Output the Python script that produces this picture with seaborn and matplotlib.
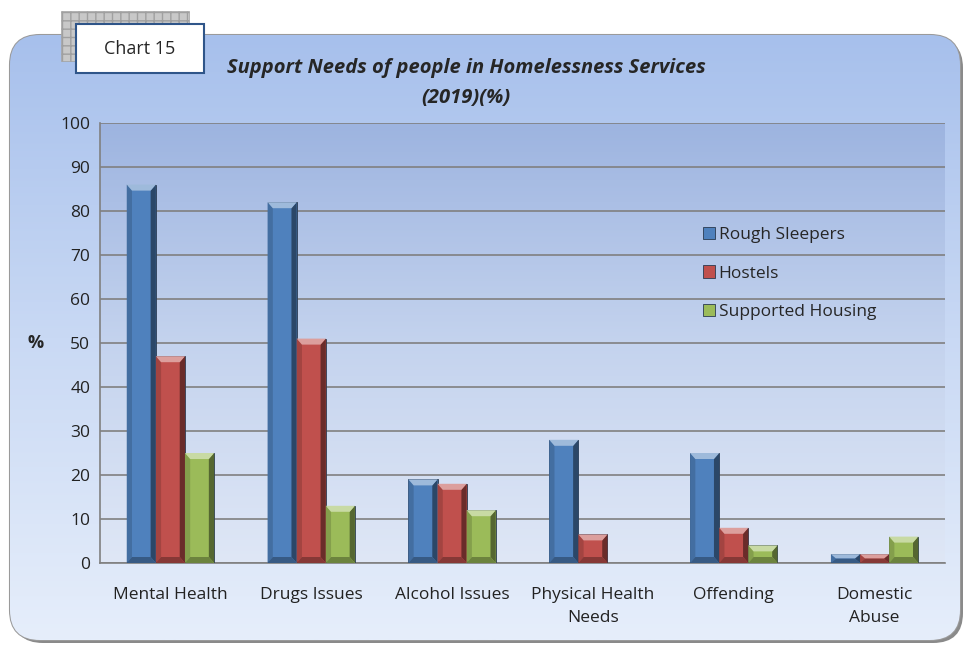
import numpy as np
import pandas as pd
import matplotlib.pyplot as plt
import seaborn as sns
from matplotlib.patches import FancyBboxPatch, Rectangle, Polygon
from matplotlib.colors import LinearSegmentedColormap, to_rgb

categories = ['Mental Health', 'Drugs Issues', 'Alcohol Issues',
              'Physical Health\nNeeds', 'Offending', 'Domestic\nAbuse']
rough_sleepers = [86, 82, 19, 28, 25, 2]
hostels = [47, 51, 18, 6.5, 8, 2]
supported_housing = [25, 13, 12, 0, 4, 6]
series_names = ['Rough Sleepers', 'Hostels', 'Supported Housing']
colors = ['#4f81bd', '#c0504d', '#9bbb59']

df = pd.DataFrame({
    'category': categories * 3,
    'value': rough_sleepers + hostels + supported_housing,
    'series': [s for s in series_names for _ in categories],
})

sns.set_theme(style='white')
plt.rcParams['font.family'] = ['Open Sans', 'DejaVu Sans']

fig = plt.figure(figsize=(9.65, 6.47), dpi=100)
W, H = 965, 647

# rounded panel with gradient
bg = fig.add_axes([0, 0, 1, 1], zorder=-5)
bg.set_xlim(0, W)
bg.set_ylim(H, 0)
bg.axis('off')
shadow = FancyBboxPatch((13, 38), 950, 605, boxstyle='round,pad=0,rounding_size=30',
                        fc='#8a8a8a', ec='none')
bg.add_patch(shadow)
panel = FancyBboxPatch((10, 35), 950, 605, boxstyle='round,pad=0,rounding_size=30',
                       fc='none', ec='#9a9a9a', lw=1.5)
bg.add_patch(panel)
grad = np.linspace(0, 1, 256).reshape(-1, 1)
cmap = LinearSegmentedColormap.from_list('p', ['#a7c0ec', '#c9d9f4', '#e6eefb'])
im = bg.imshow(grad, extent=[10, 960, 640, 35], aspect='auto', cmap=cmap, zorder=1)
im.set_clip_path(panel)

# hatched square behind chart label
hatch = Rectangle((61, 11), 128, 50, fc='#c8c8c8', ec='#a0a0a0', hatch='++', lw=0.5, zorder=3)
bg.add_patch(hatch)
label_box = Rectangle((76, 24), 128, 49, fc='white', ec='#2f5589', lw=1.5, zorder=4)
bg.add_patch(label_box)
bg.text(140, 49, 'Chart 15', ha='center', va='center', fontsize=13, zorder=5)

ax = fig.add_axes([100 / W, 1 - 563 / H, 845 / W, 440 / H])
# plot area gradient (dark at top)
pa = np.linspace(0, 1, 256).reshape(-1, 1)
pcmap = LinearSegmentedColormap.from_list('pa', ['#9db4e0', '#c4d3ee', '#dfe7f6'])
ax.imshow(pa, extent=[-0.5, 5.5, 0, 100], aspect='auto', cmap=pcmap, zorder=0)

sns.barplot(data=df, x='category', y='value', hue='series', palette=colors,
            width=0.62, gap=0, ax=ax, edgecolor='#2a3a50', linewidth=0.6,
            saturation=1, zorder=3)

# bevel shading on each bar
px_y = 100 / 440  # data units per pixel (y)
for bar in ax.patches:
    h = bar.get_height()
    if h <= 0:
        continue
    x0, w = bar.get_x(), bar.get_width()
    base = np.array(to_rgb(bar.get_facecolor()))
    dark = base * 0.55
    light = np.clip(base + (1 - base) * 0.45, 0, 1)
    e = w * 0.18
    ey = min(6 * px_y, h / 2)
    ax.add_patch(Polygon([(x0 + w - e, ey), (x0 + w, 0), (x0 + w, h), (x0 + w - e, h - ey)],
                         closed=True, fc=dark, ec='none', zorder=4))
    ax.add_patch(Polygon([(x0, 0), (x0 + e, ey), (x0 + e, h - ey), (x0, h)],
                         closed=True, fc=base * 0.85, ec='none', zorder=4))
    ax.add_patch(Polygon([(x0, h), (x0 + w, h), (x0 + w - e, h - ey), (x0 + e, h - ey)],
                         closed=True, fc=light, ec='none', zorder=4))
    ax.add_patch(Polygon([(x0, 0), (x0 + w, 0), (x0 + w - e, ey), (x0 + e, ey)],
                         closed=True, fc=base * 0.7, ec='none', zorder=4))

ax.set_xlim(-0.5, 5.5)
ax.set_ylim(0, 100)
ax.set_yticks(range(0, 101, 10))
ax.yaxis.grid(True, color='#808080', lw=1.2, zorder=1)
ax.set_axisbelow(True)
ax.set_xlabel('')
ax.set_ylabel('%', rotation=0, fontsize=13, fontweight='bold', labelpad=18, va='center')
ax.tick_params(axis='y', labelsize=12.5, length=0, pad=7, colors='#222222')
ax.tick_params(axis='x', labelsize=12.5, length=0, pad=17, colors='#222222')
for lab in ax.get_xticklabels():
    lab.set_linespacing(1.6)
ax.set_xticks(np.arange(-0.5, 5.6, 1), minor=True)
ax.tick_params(axis='x', which='minor', length=6, color='#808080', width=1)
for s in ['top', 'right']:
    ax.spines[s].set_visible(False)
for s in ['left', 'bottom']:
    ax.spines[s].set_color('#808080')
    ax.spines[s].set_linewidth(1.2)
ax.patch.set_alpha(0)

leg = ax.legend(loc='upper left', bbox_to_anchor=(0.695, 0.80), frameon=False,
                fontsize=12.5, handlelength=0.7, handleheight=0.7, handletextpad=0.2,
                labelspacing=1.3)

fig.text(466 / W, 1 - 68 / H, 'Support Needs of people in Homelessness Services',
         ha='center', va='center', fontsize=14.5, fontweight='bold', style='italic')
fig.text(466 / W, 1 - 98 / H, '(2019)(%)',
         ha='center', va='center', fontsize=14.5, fontweight='bold', style='italic')

fig.savefig('out.png', dpi=100)
